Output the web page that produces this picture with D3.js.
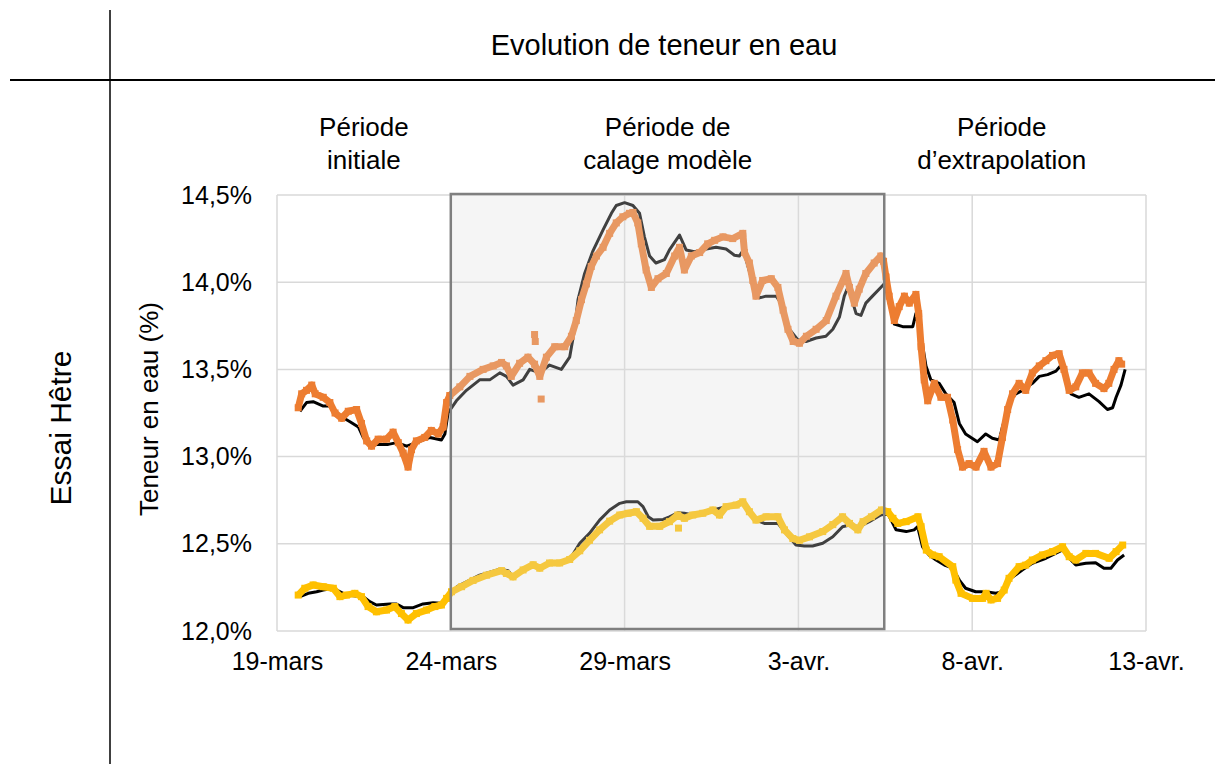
<!DOCTYPE html>
<html lang="fr">
<head>
<meta charset="utf-8">
<script src="https://cdn.jsdelivr.net/npm/d3@7"></script>
<style>
  html, body { margin: 0; padding: 0; background: #fff; }
  svg { display: block; font-family: "Liberation Sans", Arial, sans-serif; }
</style>
</head>
<body>
<svg id="chart" width="1215" height="764"></svg>
<script>
// Days counted from 19 March (00:00); values in % water content.
const xTickDays = [0, 5, 10, 15, 20, 25];
const xTickLabels = ["19-mars", "24-mars", "29-mars", "3-avr.", "8-avr.", "13-avr."];
const yTicks = [12.0, 12.5, 13.0, 13.5, 14.0, 14.5];

const periodNames = [["Période", "initiale"], ["Période de", "calage modèle"], ["Période", "d\u2019extrapolation"]];
const periodBounds = [0, 5, 17.47, 24.5];

// Upper sample: measured (orange) and model (black)
const mesureHaut = [[0.61,13.28],[0.71,13.36],[0.85,13.38],[1.0,13.41],[1.1,13.36],[1.33,13.34],[1.52,13.31],[1.67,13.25],[1.86,13.22],[2.05,13.26],[2.29,13.27],[2.43,13.19],[2.58,13.09],[2.72,13.06],[2.91,13.10],[3.15,13.10],[3.34,13.14],[3.49,13.08],[3.63,13.02],[3.77,12.94],[3.87,13.04],[4.01,13.09],[4.25,13.11],[4.44,13.15],[4.64,13.13],[4.78,13.17],[4.88,13.31],[4.97,13.35],[5.26,13.40],[5.55,13.46],[5.93,13.50],[6.22,13.52],[6.46,13.54],[6.6,13.52],[6.74,13.46],[6.98,13.535],[7.22,13.57],[7.41,13.53],[7.56,13.46],[7.75,13.57],[7.99,13.63],[8.28,13.63],[8.47,13.69],[8.61,13.78],[8.76,13.90],[8.9,13.99],[9.04,14.09],[9.19,14.15],[9.38,14.20],[9.57,14.28],[9.76,14.34],[9.95,14.375],[10.14,14.395],[10.24,14.40],[10.38,14.34],[10.48,14.22],[10.62,14.07],[10.77,13.97],[10.96,14.02],[11.2,14.05],[11.44,14.15],[11.58,14.20],[11.72,14.07],[11.92,14.15],[12.16,14.17],[12.39,14.22],[12.59,14.24],[12.83,14.26],[13.11,14.25],[13.4,14.28],[13.45,14.17],[13.59,14.11],[13.69,14.01],[13.78,13.92],[13.97,14.01],[14.22,14.02],[14.41,13.97],[14.56,13.84],[14.7,13.73],[14.85,13.66],[15.03,13.65],[15.23,13.69],[15.51,13.73],[15.8,13.78],[16.08,13.92],[16.37,14.05],[16.47,13.97],[16.61,13.88],[16.75,13.96],[16.94,14.05],[17.18,14.11],[17.37,14.15],[17.45,14.12],[17.52,14.03],[17.61,13.92],[17.76,13.78],[17.9,13.86],[18.05,13.92],[18.19,13.88],[18.38,13.93],[18.46,13.82],[18.53,13.63],[18.62,13.44],[18.72,13.32],[18.91,13.42],[19.1,13.34],[19.29,13.34],[19.44,13.21],[19.58,13.04],[19.72,12.94],[19.91,12.96],[20.11,12.94],[20.34,13.03],[20.54,12.94],[20.73,12.96],[20.87,13.11],[21.02,13.27],[21.16,13.36],[21.35,13.42],[21.54,13.38],[21.73,13.48],[21.93,13.52],[22.12,13.55],[22.31,13.58],[22.5,13.59],[22.64,13.50],[22.79,13.38],[22.98,13.40],[23.17,13.48],[23.36,13.48],[23.55,13.42],[23.79,13.39],[23.93,13.42],[24.08,13.50],[24.22,13.55],[24.3,13.53]];
const mesureHautIsoles = [[7.41,13.70],[7.43,13.66],[7.6,13.33]];
const modeleHaut = [[0.66,13.26],[0.85,13.31],[1.04,13.315],[1.33,13.29],[1.52,13.29],[1.76,13.24],[2.1,13.20],[2.34,13.17],[2.48,13.11],[2.67,13.06],[2.9,13.07],[3.2,13.07],[3.45,13.08],[3.73,13.06],[4.01,13.08],[4.4,13.11],[4.73,13.095],[4.83,13.13],[4.92,13.25],[5.16,13.32],[5.45,13.38],[5.83,13.44],[6.12,13.44],[6.41,13.48],[6.6,13.46],[6.79,13.41],[7.08,13.44],[7.27,13.50],[7.56,13.48],[7.84,13.525],[8.18,13.50],[8.42,13.57],[8.56,13.73],[8.66,13.90],[8.85,14.05],[9.09,14.18],[9.38,14.30],[9.62,14.395],[9.76,14.44],[10.0,14.456],[10.24,14.44],[10.43,14.395],[10.57,14.26],[10.72,14.15],[10.9,14.11],[11.15,14.13],[11.29,14.185],[11.58,14.27],[11.77,14.185],[12.01,14.175],[12.35,14.19],[12.63,14.20],[12.92,14.19],[13.16,14.155],[13.3,14.15],[13.42,14.185],[13.55,14.09],[13.69,13.995],[13.88,13.91],[14.07,13.92],[14.36,13.92],[14.5,13.88],[14.74,13.73],[14.98,13.67],[15.22,13.66],[15.51,13.68],[15.79,13.69],[15.99,13.73],[16.18,13.80],[16.32,13.92],[16.42,13.97],[16.51,13.92],[16.66,13.82],[16.8,13.81],[16.94,13.88],[17.13,13.92],[17.37,13.97],[17.51,14.00],[17.61,13.88],[17.76,13.76],[18.0,13.745],[18.29,13.745],[18.38,13.82],[18.53,13.69],[18.67,13.52],[18.81,13.44],[19.05,13.42],[19.24,13.36],[19.48,13.31],[19.63,13.19],[19.81,13.13],[20.15,13.085],[20.39,13.13],[20.58,13.105],[20.78,13.095],[20.87,13.17],[21.02,13.27],[21.16,13.35],[21.45,13.38],[21.73,13.42],[21.93,13.46],[22.17,13.47],[22.41,13.49],[22.56,13.525],[22.7,13.44],[22.84,13.36],[23.07,13.34],[23.36,13.36],[23.65,13.315],[23.89,13.27],[24.04,13.28],[24.14,13.34],[24.28,13.41],[24.4,13.50]];

// Lower sample: measured (yellow) and model (black)
const mesureBas = [[0.61,12.206],[0.8,12.245],[1.04,12.264],[1.33,12.254],[1.62,12.245],[1.81,12.197],[2.0,12.206],[2.24,12.216],[2.43,12.197],[2.62,12.14],[2.86,12.11],[3.15,12.12],[3.39,12.14],[3.58,12.10],[3.77,12.063],[4.01,12.10],[4.3,12.12],[4.54,12.14],[4.73,12.149],[4.88,12.187],[5.02,12.225],[5.31,12.254],[5.64,12.29],[6.03,12.32],[6.46,12.346],[6.6,12.33],[6.79,12.31],[7.08,12.35],[7.37,12.38],[7.56,12.36],[7.84,12.39],[8.13,12.39],[8.42,12.41],[8.71,12.46],[8.99,12.52],[9.28,12.58],[9.57,12.63],[9.86,12.665],[10.1,12.675],[10.34,12.684],[10.53,12.646],[10.72,12.60],[11.01,12.60],[11.29,12.627],[11.53,12.665],[11.72,12.646],[11.96,12.665],[12.25,12.675],[12.54,12.694],[12.73,12.665],[12.92,12.713],[13.21,12.722],[13.4,12.741],[13.59,12.684],[13.78,12.636],[14.07,12.655],[14.41,12.655],[14.6,12.58],[14.84,12.53],[15.03,12.52],[15.32,12.54],[15.7,12.57],[15.99,12.61],[16.27,12.655],[16.47,12.617],[16.71,12.58],[16.86,12.627],[17.1,12.655],[17.39,12.694],[17.57,12.684],[17.72,12.646],[17.86,12.617],[18.1,12.627],[18.44,12.655],[18.53,12.598],[18.68,12.464],[18.86,12.436],[19.05,12.426],[19.44,12.369],[19.53,12.292],[19.68,12.216],[20.01,12.187],[20.3,12.187],[20.4,12.216],[20.54,12.178],[20.73,12.187],[20.92,12.235],[21.06,12.302],[21.35,12.369],[21.54,12.378],[21.73,12.407],[22.02,12.436],[22.31,12.455],[22.6,12.483],[22.79,12.426],[22.98,12.407],[23.27,12.445],[23.55,12.445],[23.94,12.417],[24.14,12.455],[24.33,12.493]];
const mesureBasIsoles = [[11.55,12.59]];
const modeleBas = [[0.66,12.197],[0.9,12.216],[1.14,12.225],[1.33,12.235],[1.62,12.245],[2.0,12.206],[2.48,12.197],[2.67,12.168],[2.86,12.149],[3.25,12.155],[3.44,12.155],[3.63,12.134],[3.92,12.134],[4.2,12.155],[4.49,12.162],[4.73,12.159],[4.88,12.187],[5.18,12.254],[5.83,12.32],[6.41,12.354],[6.65,12.346],[6.79,12.31],[7.08,12.35],[7.37,12.38],[7.56,12.36],[7.84,12.39],[8.13,12.39],[8.42,12.41],[8.71,12.503],[8.99,12.56],[9.28,12.636],[9.57,12.694],[9.86,12.732],[10.05,12.741],[10.38,12.741],[10.53,12.713],[10.68,12.655],[10.82,12.636],[11.11,12.64],[11.29,12.655],[11.53,12.678],[11.72,12.675],[11.96,12.665],[12.25,12.675],[12.54,12.694],[12.92,12.713],[13.21,12.722],[13.4,12.741],[13.59,12.684],[13.78,12.636],[14.02,12.617],[14.41,12.617],[14.6,12.57],[14.93,12.493],[15.17,12.487],[15.41,12.487],[15.7,12.503],[15.99,12.54],[16.27,12.598],[16.47,12.608],[16.75,12.598],[17.04,12.627],[17.37,12.665],[17.57,12.675],[17.81,12.58],[18.1,12.57],[18.33,12.58],[18.43,12.598],[18.57,12.483],[18.76,12.436],[18.96,12.407],[19.2,12.378],[19.44,12.36],[19.63,12.292],[19.81,12.245],[20.1,12.225],[20.39,12.225],[20.68,12.216],[20.87,12.225],[21.11,12.302],[21.44,12.35],[21.73,12.388],[22.12,12.417],[22.5,12.455],[22.6,12.465],[22.79,12.417],[22.98,12.378],[23.27,12.388],[23.55,12.392],[23.79,12.36],[23.99,12.36],[24.18,12.407],[24.37,12.436]];

const svg = d3.select("#chart");
const W = 1215, H = 764;
const plot = { left: 277, right: 1146, top: 195, bottom: 631 };
const FONT = 25;

// Table frame around the chart
svg.append("line").attr("x1", 110).attr("x2", 110).attr("y1", 10).attr("y2", H)
  .attr("stroke", "#000").attr("stroke-width", 1.5);
svg.append("line").attr("x1", 10).attr("x2", W).attr("y1", 80).attr("y2", 80)
  .attr("stroke", "#000").attr("stroke-width", 2);
svg.append("text").attr("x", 664).attr("y", 55).attr("text-anchor", "middle")
  .attr("font-size", 29).text("Evolution de teneur en eau");
svg.append("text").attr("transform", "translate(71,428) rotate(-90)")
  .attr("text-anchor", "middle").attr("font-size", 30).text("Essai Hêtre");

const x = d3.scaleLinear().domain([0, 25]).range([plot.left, plot.right]);
const y = d3.scaleLinear().domain([12.0, 14.5]).range([plot.bottom, plot.top]);
const fmtPct = v => d3.format(".1f")(v).replace(".", ",") + "%";

// Gridlines
const grid = svg.append("g").attr("stroke", "#d9d9d9").attr("stroke-width", 1.5);
grid.selectAll("line.h").data(yTicks).join("line").attr("class", "h")
  .attr("x1", plot.left).attr("x2", plot.right).attr("y1", d => y(d)).attr("y2", d => y(d));
grid.selectAll("line.v").data(xTickDays).join("line").attr("class", "v")
  .attr("x1", d => x(d)).attr("x2", d => x(d)).attr("y1", plot.top).attr("y2", plot.bottom);

// Axes (labels only; lines come from the grid)
const yAxis = svg.append("g").attr("transform", `translate(${plot.left - 25},0)`)
  .call(d3.axisLeft(y).tickValues(yTicks).tickFormat(fmtPct).tickSize(0).tickPadding(0));
yAxis.select(".domain").remove();
yAxis.selectAll("text").attr("font-size", FONT).attr("fill", "#000")
  .attr("font-family", "Liberation Sans, Arial, sans-serif");

const xAxis = svg.append("g").attr("transform", `translate(0,${plot.bottom + 20})`)
  .call(d3.axisBottom(x).tickValues(xTickDays).tickFormat((d, i) => xTickLabels[i]).tickSize(0).tickPadding(0));
xAxis.select(".domain").remove();
xAxis.selectAll("text").attr("font-size", FONT).attr("fill", "#000").attr("dy", "0.75em")
  .attr("font-family", "Liberation Sans, Arial, sans-serif");

svg.append("text").attr("transform", `translate(158,${(plot.top + plot.bottom) / 2 - 4}) rotate(-90)`)
  .attr("text-anchor", "middle").attr("font-size", 26).text("Teneur en eau (%)");

// Period headings above the plot
const periodCenters = [2.5, 11.24, 20.85];
periodNames.forEach((lines, i) => {
  const t = svg.append("text").attr("text-anchor", "middle").attr("font-size", 26);
  lines.forEach((ln, j) => t.append("tspan").attr("x", x(periodCenters[i])).attr("y", 136 + j * 33).text(ln));
});

const line = d3.line().x(d => x(d[0])).y(d => y(d[1]));

// Model curves (under the measurements)
[modeleHaut, modeleBas].forEach(s => {
  svg.append("path").datum(s).attr("d", line).attr("fill", "none")
    .attr("stroke", "#000").attr("stroke-width", 3).attr("stroke-linejoin", "round");
});

// Measured series: dense square markers along a thick trace
function drawMeasured(series, isolated, color) {
  svg.append("path").datum(series).attr("d", line).attr("fill", "none")
    .attr("stroke", color).attr("stroke-width", 7).attr("stroke-linejoin", "round");
  svg.append("g").attr("fill", color).selectAll("rect").data(series.concat(isolated)).join("rect")
    .attr("x", d => x(d[0]) - 3.5).attr("y", d => y(d[1]) - 3.5).attr("width", 7).attr("height", 7);
}
drawMeasured(mesureHaut, mesureHautIsoles, "#ED7D31");
drawMeasured(mesureBas, mesureBasIsoles, "#FFC000");

// Calibration period: translucent shaded frame over the curves
svg.append("rect")
  .attr("x", x(periodBounds[1])).attr("y", y(14.5) - 1)
  .attr("width", x(periodBounds[2]) - x(periodBounds[1]))
  .attr("height", y(12.0) - y(14.5) - 1)
  .attr("fill", "rgba(220,220,220,0.29)")
  .attr("stroke", "#7f7f7f").attr("stroke-width", 2.5);
</script>
</body>
</html>
